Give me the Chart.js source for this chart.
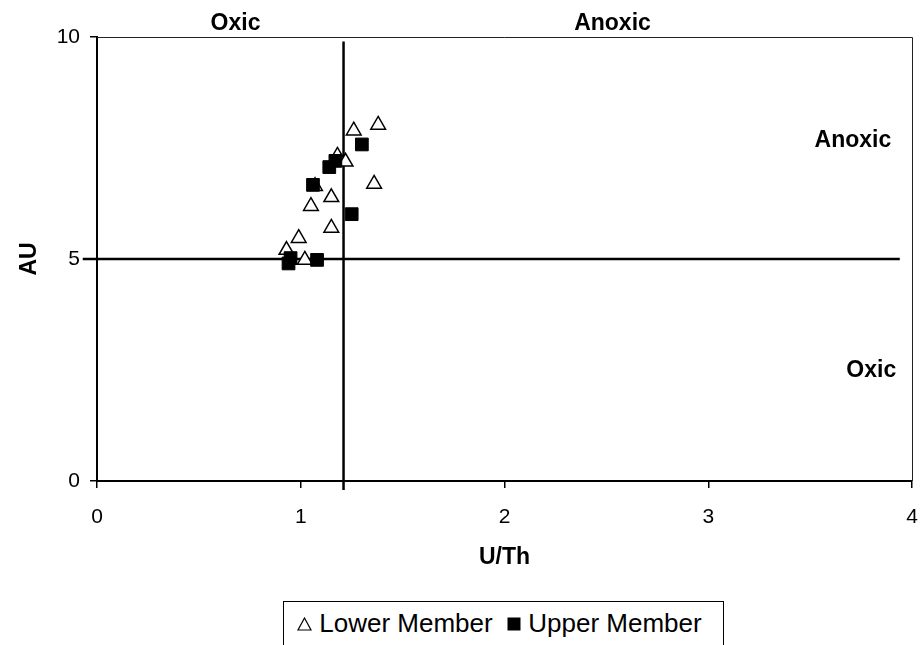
<!DOCTYPE html>
<html>
<head>
<meta charset="utf-8">
<script src="https://cdn.jsdelivr.net/npm/chart.js@4.4.1/dist/chart.umd.min.js"></script>
<style>
  html, body { margin: 0; padding: 0; background: #fff; }
  #wrap { position: relative; width: 922px; height: 645px; overflow: hidden; }
  #legend {
    position: absolute; left: 283px; top: 601px; width: 441px; height: 60px;
    border: 1px solid #000; box-sizing: border-box; background: #fff;
    font-family: "Liberation Sans", Arial, sans-serif; font-size: 26px; color: #000;
    padding: 6px 0 0 13px; white-space: nowrap;
  }
  #legend svg { vertical-align: 1px; }
</style>
</head>
<body>
<div id="wrap">
  <canvas id="chart" width="922" height="645"></canvas>
  <div id="legend">
    <svg width="15" height="14"><polygon points="7.5,1 14,13 1,13" fill="#fff" stroke="#000" stroke-width="1.2"/></svg> Lower Member&nbsp;
    <svg width="14" height="14"><rect x="0.5" y="0.5" width="13" height="13" fill="#000"/></svg> Upper Member
  </div>
</div>
<script>
// Lower Member samples (open triangles)
const lowerUTh = [1.26, 1.38, 1.18, 1.22, 1.07, 1.36, 1.15, 1.05, 1.15, 0.99, 0.93, 1.02];
const lowerAU  = [7.89, 8.02, 7.32, 7.19, 6.64, 6.69, 6.39, 6.19, 5.70, 5.47, 5.20, 4.98];

// Upper Member samples (filled squares)
const upperUTh = [1.30, 1.17, 1.14, 1.06, 1.25, 0.95, 0.94, 1.08];
const upperAU  = [7.58, 7.21, 7.07, 6.67, 6.01, 5.02, 4.90, 4.98];

// Oxic / anoxic boundaries
const uthBoundaryX = [1.21, 1.21];
const uthBoundaryY = [-0.2, 9.9];
const auBoundaryX  = [-0.07, 3.94];
const auBoundaryY  = [5, 5];

// Region names and where they sit (data units)
const regionText = ['Oxic', 'Anoxic', 'Anoxic', 'Oxic'];
const regionX    = [0.68, 2.53, 3.71, 3.80];
const regionY    = [10.15, 10.15, 7.52, 2.34];

const xTicks = [0, 1, 2, 3, 4];
const yTicks = [0, 5, 10];

function toPoints(xs, ys) {
    return xs.map((x, i) => ({ x: x, y: ys[i] }));
}

const FONT = '"Liberation Sans", Arial, sans-serif';

// plot frame (top/right) and region labels
const overlay = {
    id: 'overlay',
    beforeDatasetsDraw(chart) {
        const a = chart.chartArea;
        const c = chart.ctx;
        c.save();
        c.strokeStyle = '#222';
        c.lineWidth = 1;
        c.beginPath();
        c.moveTo(a.left, a.top + 0.5);
        c.lineTo(a.right + 0.5, a.top + 0.5);
        c.lineTo(a.right + 0.5, a.bottom);
        c.stroke();
        c.restore();
    },
    afterDraw(chart) {
        const c = chart.ctx;
        const xs = chart.scales.x, ys = chart.scales.y;
        c.save();
        c.fillStyle = '#000';
        c.font = 'bold 23px ' + FONT;
        c.textAlign = 'center';
        c.textBaseline = 'alphabetic';
        regionText.forEach((t, i) => {
            c.fillText(t, xs.getPixelForValue(regionX[i]), ys.getPixelForValue(regionY[i]));
        });
        c.restore();
    }
};

const ctx = document.getElementById('chart').getContext('2d');
new Chart(ctx, {
    type: 'scatter',
    data: {
        datasets: [
            {
                label: 'Upper Member',
                data: toPoints(upperUTh, upperAU),
                pointStyle: 'rect',
                pointRadius: 9,
                backgroundColor: '#000',
                borderColor: '#000',
                borderWidth: 1
            },
            {
                label: 'Lower Member',
                data: toPoints(lowerUTh, lowerAU),
                pointStyle: 'triangle',
                pointRadius: 8.5,
                backgroundColor: '#fff',
                borderColor: '#000',
                borderWidth: 1.5
            },
            {
                type: 'line',
                label: 'U/Th boundary',
                data: toPoints(uthBoundaryX, uthBoundaryY),
                borderColor: '#000',
                borderWidth: 2.5,
                pointRadius: 0,
                clip: false
            },
            {
                type: 'line',
                label: 'AU boundary',
                data: toPoints(auBoundaryX, auBoundaryY),
                borderColor: '#000',
                borderWidth: 2.5,
                pointRadius: 0,
                clip: false
            }
        ]
    },
    options: {
        responsive: false,
        devicePixelRatio: 1,
        animation: false,
        events: [],
        layout: { padding: { top: 37, right: 10, bottom: 74, left: 16 } },
        plugins: {
            legend: { display: false },
            tooltip: { enabled: false }
        },
        scales: {
            x: {
                type: 'linear',
                min: 0,
                max: 4,
                afterBuildTicks: s => { s.ticks = xTicks.map(v => ({ value: v })); },
                afterFit: s => { s.height = 90; s.paddingLeft = 0; s.paddingRight = 0; },
                ticks: { color: '#000', font: { family: FONT, size: 21 }, padding: 17 },
                grid: { drawOnChartArea: false, drawTicks: true, tickLength: 7, color: '#000', lineWidth: 1.5 },
                border: { color: '#000', width: 2 },
                title: { display: true, text: 'U/Th', color: '#000', font: { family: FONT, size: 23, weight: 'bold' }, padding: 0 }
            },
            y: {
                type: 'linear',
                min: 0,
                max: 10,
                afterBuildTicks: s => { s.ticks = yTicks.map(v => ({ value: v })); },
                afterFit: s => { s.width = 81; s.paddingTop = 0; s.paddingBottom = 0; },
                ticks: { color: '#000', font: { family: FONT, size: 21 }, padding: 10 },
                grid: { drawOnChartArea: false, drawTicks: true, tickLength: 7, color: '#000', lineWidth: 1.5 },
                border: { color: '#000', width: 2 },
                title: { display: true, text: 'AU', color: '#000', font: { family: FONT, size: 23, weight: 'bold' }, padding: 0 }
            }
        }
    },
    plugins: [overlay]
});
</script>
</body>
</html>
